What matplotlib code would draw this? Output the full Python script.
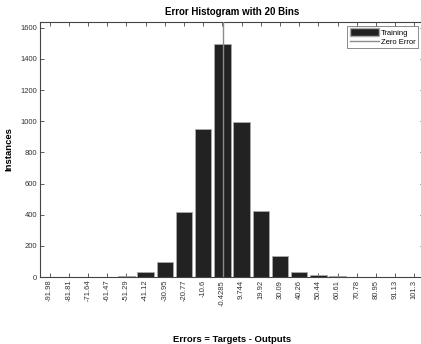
import matplotlib
matplotlib.use("Agg")
import matplotlib.pyplot as plt
from matplotlib.patches import Patch
from matplotlib.lines import Line2D

# bin centres and counts
bin_centers = [-91.98, -81.81, -71.64, -61.47, -51.29, -41.12, -30.95, -20.77,
               -10.6, -0.4285, 9.744, 19.92, 30.09, 40.26, 50.44, 60.61,
               70.78, 80.95, 91.13, 101.3]
tick_labels = ["-91.98", "-81.81", "-71.64", "-61.47", "-51.29", "-41.12",
               "-30.95", "-20.77", "-10.6", "-0.4285", "9.744", "19.92",
               "30.09", "40.26", "50.44", "60.61", "70.78", "80.95",
               "91.13", "101.3"]
counts = [2, 2, 2, 1, 9, 35, 97, 415, 947, 1493, 996, 423, 133, 31, 12, 5,
          2, 0, 0, 2]

plt.rcParams['font.family'] = ['Liberation Sans', 'DejaVu Sans']

fig = plt.figure(figsize=(4.21, 3.44), dpi=100)
ax = fig.add_axes([40 / 421, 67 / 344, 384 / 421, 255 / 344])

bw = bin_centers[1] - bin_centers[0]
ax.bar(bin_centers, counts, width=bw * 0.85, color='#222222',
       edgecolor='#aaaaaa', linewidth=0.6, zorder=2)
ax.axvline(0, color='#8a8a8a', linewidth=1.0, zorder=3)

ax.set_xlim(bin_centers[0] - bw / 2, bin_centers[-1] + bw / 2)
ax.set_ylim(0, 1637)
ax.set_xticks(bin_centers)
ax.set_xticklabels(tick_labels, rotation=90, fontsize=5.5, color='#333333')
ax.set_yticks(range(0, 1601, 200))
ax.tick_params(axis='y', labelsize=5.5, labelcolor='#333333')
ax.tick_params(direction='in', length=3, width=0.6, color='#444444',
               top=True, right=True, pad=2)

for s in ax.spines.values():
    s.set_color('#444444')
    s.set_linewidth(0.8)

ax.set_title('Error Histogram with 20 Bins', fontsize=7, fontweight='bold', pad=5)
ax.set_xlabel('Errors = Targets - Outputs', fontsize=6.8, fontweight='bold', labelpad=21)
ax.set_ylabel('Instances', fontsize=6.8, fontweight='bold', labelpad=5)

handles = [Patch(facecolor='#222222', edgecolor='#aaaaaa'),
           Line2D([0], [0], color='#8a8a8a', linewidth=1.0)]
leg = ax.legend(handles, ['Training', 'Zero Error'], loc='upper right',
                bbox_to_anchor=(418 / 421, 1 - 26 / 344), bbox_transform=fig.transFigure,
                fontsize=5.5, frameon=True, fancybox=False, edgecolor='#555555',
                handlelength=3.8, handleheight=1.1, handletextpad=0.3,
                borderpad=0.3, labelspacing=0.15, borderaxespad=0)
leg.get_frame().set_linewidth(0.6)

fig.savefig('out.png', dpi=100)
